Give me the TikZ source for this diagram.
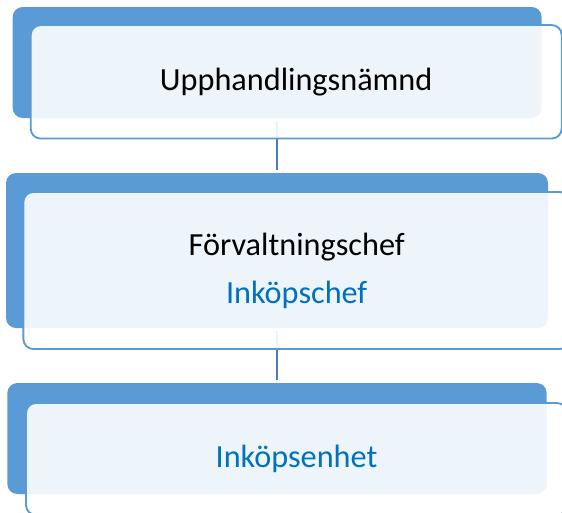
\documentclass[tikz,border=0pt]{standalone}
\usepackage{fontspec}
\setmainfont{Carlito}
\usepackage{tikz}
\definecolor{boxblue}{RGB}{91,155,213}
\definecolor{linkblue}{RGB}{74,126,187}
\definecolor{textblue}{RGB}{0,112,192}
\usetikzlibrary{positioning}

\begin{document}
\begin{tikzpicture}[x=0.75pt, y=-0.75pt,
        backbox/.style = {fill=boxblue, rounded corners=7.5pt, inner sep=0pt, outer sep=0pt},
        frontbox/.style = {draw=boxblue, line width=1.4pt, fill=white, fill opacity=0.9, text opacity=1,
            rounded corners=7.5pt, inner sep=0pt, outer sep=0pt, align=center,
            font=\fontsize{24.2}{36}\selectfont},
        link/.style = {draw=linkblue, line width=1.5pt, shorten <=2.25pt, shorten >=2.25pt}]
        \useasboundingbox (0,0) rectangle (562,512);
        \node[backbox, minimum width=529*0.75pt, minimum height=111*0.75pt] (back1) at (277.2,62.5) {};
        \node[backbox, minimum width=542*0.75pt, minimum height=155*0.75pt] (back2) at (277,250.5) {};
        \node[backbox, minimum width=539.4*0.75pt, minimum height=111*0.75pt] (back3) at (277,438.5) {};
        \draw[link] (back1.south) -- (back1.south |- back2.north);
        \draw[link] (back2.south) -- (back2.south |- back3.north);
        \node[frontbox, minimum width=531*0.75pt, minimum height=113.5*0.75pt] (upph) at (296.2,81.8) {Upphandlingsnämnd};
        \node[frontbox, minimum width=546.7*0.75pt, minimum height=157*0.75pt] (forv) at (296.7,270.5) {Förvaltningschef\\\textcolor{textblue}{Inköpschef}};
        \node[frontbox, minimum width=541*0.75pt, minimum height=112*0.75pt] (enhet) at (296.5,459) {\textcolor{textblue}{Inköpsenhet}};
    \end{tikzpicture}
\end{document}
